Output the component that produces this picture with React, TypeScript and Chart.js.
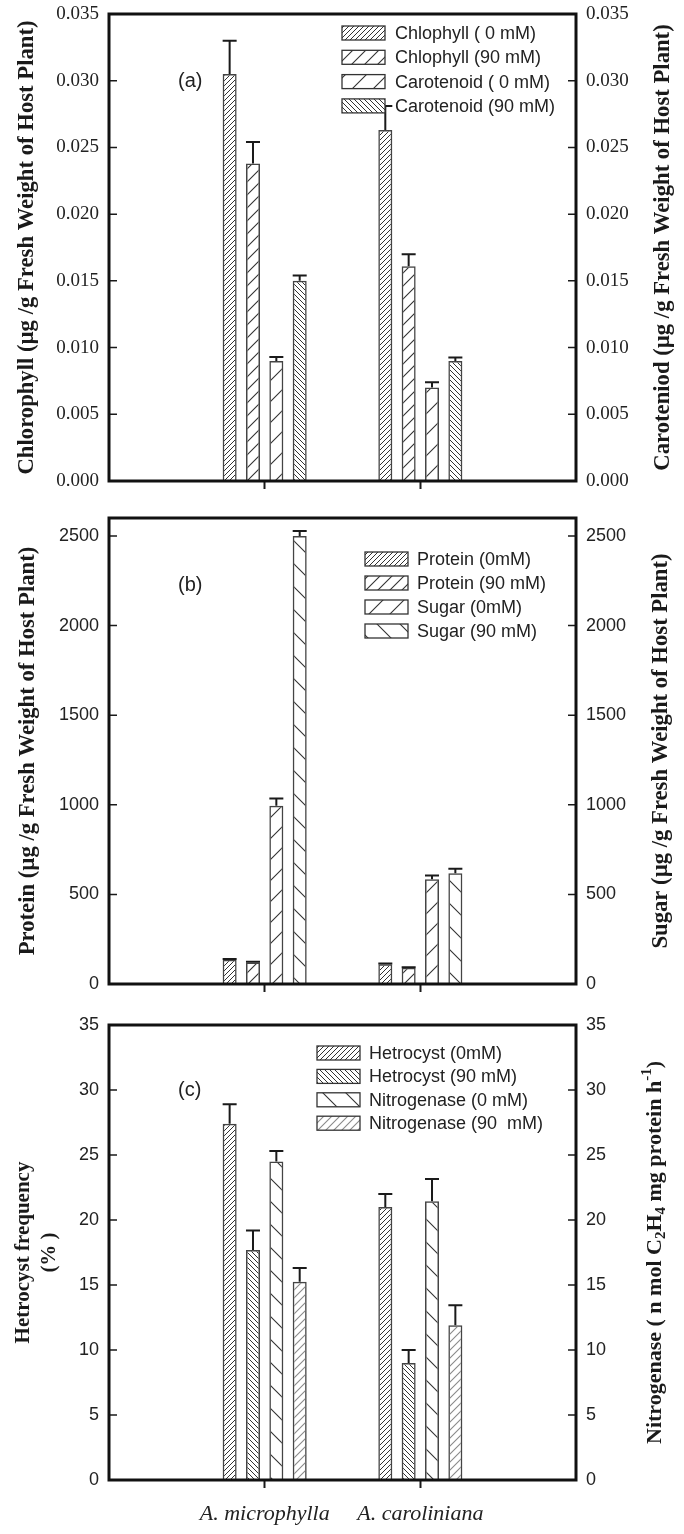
import React, { useEffect, useRef } from 'react';
import { Chart, registerables } from 'chart.js';
Chart.register(...registerables);

// ---------- data ----------
const categories = ['A. microphylla', 'A. caroliniana'];

// panel (a)
const ticksA = [0, 0.005, 0.01, 0.015, 0.02, 0.025, 0.03, 0.035];
const chlorophyll0 = [0.0305, 0.0263];
const chlorophyll0Err = [0.0025, 0.0018];
const chlorophyll90 = [0.0238, 0.0161];
const chlorophyll90Err = [0.0016, 0.0009];
const carotenoid0 = [0.009, 0.007];
const carotenoid0Err = [0.0003, 0.0004];
const carotenoid90 = [0.015, 0.009];
const carotenoid90Err = [0.0004, 0.00025];
const legendA = ['Chlophyll ( 0 mM)', 'Chlophyll (90 mM)', 'Carotenoid ( 0 mM)', 'Carotenoid (90 mM)'];

// panel (b)
const ticksB = [0, 500, 1000, 1500, 2000, 2500];
const protein0 = [135, 110];
const protein0Err = [5, 4];
const protein90 = [120, 90];
const protein90Err = [4, 3];
const sugar0 = [995, 585];
const sugar0Err = [40, 20];
const sugar90 = [2500, 618];
const sugar90Err = [28, 25];
const legendB = ['Protein (0mM)', 'Protein (90 mM)', 'Sugar (0mM)', 'Sugar (90 mM)'];

// panel (c)
const ticksC = [0, 5, 10, 15, 20, 25, 30, 35];
const hetrocyst0 = [27.4, 21.0];
const hetrocyst0Err = [1.5, 1.0];
const hetrocyst90 = [17.7, 9.0];
const hetrocyst90Err = [1.5, 1.0];
const nitrogenase0 = [24.5, 21.45];
const nitrogenase0Err = [0.8, 1.7];
const nitrogenase90 = [15.25, 11.9];
const nitrogenase90Err = [1.05, 1.55];
const legendC = ['Hetrocyst (0mM)', 'Hetrocyst (90 mM)', 'Nitrogenase (0 mM)', 'Nitrogenase (90  mM)'];

// ---------- helpers ----------
type Pat = { dir: 'f' | 'b'; s: number; color: string; lw: number };

function makePattern(p: Pat): CanvasPattern {
  const s = p.s;
  const c = document.createElement('canvas');
  c.width = s;
  c.height = s;
  const g = c.getContext('2d')!;
  g.strokeStyle = p.color;
  g.lineWidth = p.lw;
  g.beginPath();
  if (p.dir === 'f') {
    g.moveTo(0, s); g.lineTo(s, 0);
    g.moveTo(-s / 2, s / 2); g.lineTo(s / 2, -s / 2);
    g.moveTo(s / 2, s * 1.5); g.lineTo(s * 1.5, s / 2);
  } else {
    g.moveTo(0, 0); g.lineTo(s, s);
    g.moveTo(-s / 2, s / 2); g.lineTo(s / 2, s * 1.5);
    g.moveTo(s / 2, -s / 2); g.lineTo(s * 1.5, s / 2);
  }
  g.stroke();
  return g.createPattern(c, 'repeat')!;
}

type Seg = { t: string; kind?: 'sub' | 'sup' };

type PanelDef = {
  height: number;
  top: number;
  bottom: number;
  max: number;
  ticks: number[];
  decimals: number;
  tickFamily: string;
  tickSize: number;
  showCats: boolean;
  label: string;
  labelPos: [number, number];
  leftTitle: { lines: string[]; xs: number[]; size: number };
  rightTitle: { segs: Seg[]; x: number; size: number };
  legend: { x: number; y0: number; pitch: number; textX: number; labels: string[] };
  series: { values: number[]; errs: number[]; pat: Pat }[];
};

const dark = '#333';

const panels: PanelDef[] = [
  {
    height: 500, top: 14, bottom: 481, max: 0.035, ticks: ticksA, decimals: 3,
    tickFamily: '"Liberation Serif", serif', tickSize: 19, showCats: false,
    label: '(a)', labelPos: [178, 81],
    leftTitle: { lines: ['Chlorophyll (µg /g Fresh Weight of Host Plant)'], xs: [27], size: 22.7 },
    rightTitle: { segs: [{ t: 'Caroteniod (µg /g Fresh Weight of Host Plant)' }], x: 663, size: 22.7 },
    legend: { x: 342, y0: 33, pitch: 24.3, textX: 395, labels: legendA },
    series: [
      { values: chlorophyll0, errs: chlorophyll0Err, pat: { dir: 'f', s: 5, color: dark, lw: 1 } },
      { values: chlorophyll90, errs: chlorophyll90Err, pat: { dir: 'f', s: 13, color: dark, lw: 1.1 } },
      { values: carotenoid0, errs: carotenoid0Err, pat: { dir: 'f', s: 21, color: dark, lw: 1.1 } },
      { values: carotenoid90, errs: carotenoid90Err, pat: { dir: 'b', s: 5, color: dark, lw: 1 } },
    ],
  },
  {
    height: 500, top: 18, bottom: 484, max: 2600, ticks: ticksB, decimals: 0,
    tickFamily: '"Liberation Sans", Arial, sans-serif', tickSize: 18, showCats: false,
    label: '(b)', labelPos: [178, 85],
    leftTitle: { lines: ['Protein (µg /g Fresh Weight of Host Plant)'], xs: [28], size: 22.7 },
    rightTitle: { segs: [{ t: 'Sugar (µg /g Fresh Weight of Host Plant)' }], x: 661, size: 22.7 },
    legend: { x: 365, y0: 59, pitch: 24, textX: 417, labels: legendB },
    series: [
      { values: protein0, errs: protein0Err, pat: { dir: 'f', s: 5, color: dark, lw: 1 } },
      { values: protein90, errs: protein90Err, pat: { dir: 'f', s: 12, color: dark, lw: 1.1 } },
      { values: sugar0, errs: sugar0Err, pat: { dir: 'f', s: 21, color: dark, lw: 1.1 } },
      { values: sugar90, errs: sugar90Err, pat: { dir: 'b', s: 23, color: dark, lw: 1.1 } },
    ],
  },
  {
    height: 534, top: 25, bottom: 480, max: 35, ticks: ticksC, decimals: 0,
    tickFamily: '"Liberation Sans", Arial, sans-serif', tickSize: 18, showCats: true,
    label: '(c)', labelPos: [178, 90],
    leftTitle: { lines: ['Hetrocyst frequency', '(% )'], xs: [24, 50], size: 21 },
    rightTitle: {
      segs: [
        { t: 'Nitrogenase ( n mol C' }, { t: '2', kind: 'sub' }, { t: 'H' }, { t: '4', kind: 'sub' },
        { t: ' mg protein h' }, { t: '-1', kind: 'sup' }, { t: ')' },
      ],
      x: 655,
      size: 22,
    },
    legend: { x: 317, y0: 53, pitch: 23.4, textX: 369, labels: legendC },
    series: [
      { values: hetrocyst0, errs: hetrocyst0Err, pat: { dir: 'f', s: 5, color: dark, lw: 1 } },
      { values: hetrocyst90, errs: hetrocyst90Err, pat: { dir: 'b', s: 5, color: dark, lw: 1 } },
      { values: nitrogenase0, errs: nitrogenase0Err, pat: { dir: 'b', s: 23, color: dark, lw: 1.1 } },
      { values: nitrogenase90, errs: nitrogenase90Err, pat: { dir: 'f', s: 8, color: '#8a8a8a', lw: 1.1 } },
    ],
  },
];

function drawRotated(ctx: CanvasRenderingContext2D, segs: Seg[], x: number, y: number, base: number) {
  const small = Math.round(base * 0.7);
  const fontFor = (k?: string) => `bold ${k ? small : base}px "Liberation Serif", serif`;
  let total = 0;
  const widths = segs.map((s) => {
    ctx.font = fontFor(s.kind);
    const w = ctx.measureText(s.t).width;
    total += w;
    return w;
  });
  ctx.save();
  ctx.translate(x, y);
  ctx.rotate(-Math.PI / 2);
  ctx.textAlign = 'left';
  ctx.textBaseline = 'middle';
  ctx.fillStyle = '#1a1a1a';
  let cx = -total / 2;
  segs.forEach((s, i) => {
    ctx.font = fontFor(s.kind);
    const dy = s.kind === 'sub' ? 6 : s.kind === 'sup' ? -8 : 0;
    ctx.fillText(s.t, cx, dy);
    cx += widths[i];
  });
  ctx.restore();
}

function buildConfig(def: PanelDef): any {
  const patterns = def.series.map((s) => makePattern(s.pat));
  const labels = ['', ...categories, ''];

  const yCommon = (pos: 'left' | 'right', width: number) => ({
    position: pos,
    min: 0,
    max: def.max,
    grid: { display: false, drawTicks: false },
    border: { display: false },
    afterBuildTicks: (scale: any) => {
      scale.ticks = def.ticks.map((v) => ({ value: v }));
    },
    afterFit: (scale: any) => {
      scale.width = width;
      scale.paddingTop = 0;
      scale.paddingBottom = 0;
    },
    ticks: {
      padding: 10,
      color: '#222',
      font: { family: def.tickFamily, size: def.tickSize },
      callback: (v: number) => v.toFixed(def.decimals),
    },
  });

  const framePlugin = {
    id: 'framePlugin',
    afterDatasetsDraw(chart: any) {
      const ctx: CanvasRenderingContext2D = chart.ctx;
      const y = chart.scales.y;
      // error bars
      ctx.save();
      ctx.strokeStyle = '#1a1a1a';
      ctx.lineWidth = 2;
      def.series.forEach((s, di) => {
        const meta = chart.getDatasetMeta(di);
        s.values.forEach((v, i) => {
          const bar = meta.data[i + 1];
          if (!bar) return;
          const yTop = y.getPixelForValue(v + s.errs[i]);
          const yVal = y.getPixelForValue(v);
          const w = bar.width;
          ctx.beginPath();
          ctx.moveTo(bar.x, yVal);
          ctx.lineTo(bar.x, yTop);
          ctx.moveTo(bar.x - w / 2, yTop);
          ctx.lineTo(bar.x + w / 2, yTop);
          ctx.stroke();
        });
      });
      ctx.restore();
    },
    afterDraw(chart: any) {
      const ctx: CanvasRenderingContext2D = chart.ctx;
      const a = chart.chartArea;
      const y = chart.scales.y;
      ctx.save();
      // inward ticks
      ctx.strokeStyle = '#1a1a1a';
      ctx.lineWidth = 1.5;
      def.ticks.forEach((v) => {
        const py = y.getPixelForValue(v);
        ctx.beginPath();
        ctx.moveTo(a.left, py);
        ctx.lineTo(a.left + 8, py);
        ctx.moveTo(a.right - 8, py);
        ctx.lineTo(a.right, py);
        ctx.stroke();
      });
      // frame
      ctx.strokeStyle = '#111';
      ctx.lineWidth = 3;
      ctx.strokeRect(a.left, a.top, a.right - a.left, a.bottom - a.top);

      // legend
      const L = def.legend;
      L.labels.forEach((lab, k) => {
        const cy = L.y0 + k * L.pitch;
        ctx.fillStyle = '#fff';
        ctx.fillRect(L.x, cy - 7, 43, 14);
        ctx.fillStyle = patterns[k];
        ctx.fillRect(L.x, cy - 7, 43, 14);
        ctx.strokeStyle = '#333';
        ctx.lineWidth = 1.3;
        ctx.strokeRect(L.x, cy - 7, 43, 14);
        ctx.fillStyle = '#222';
        ctx.font = '18px "Liberation Sans", Arial, sans-serif';
        ctx.textAlign = 'left';
        ctx.textBaseline = 'middle';
        ctx.fillText(lab, L.textX, cy + 1);
      });

      // panel label
      ctx.fillStyle = '#222';
      ctx.font = '20px "Liberation Sans", Arial, sans-serif';
      ctx.textAlign = 'left';
      ctx.textBaseline = 'middle';
      ctx.fillText(def.label, def.labelPos[0], def.labelPos[1]);

      // left titles
      const cy = (a.top + a.bottom) / 2;
      def.leftTitle.lines.forEach((ln, i) => {
        ctx.save();
        ctx.translate(def.leftTitle.xs[i], cy);
        ctx.rotate(-Math.PI / 2);
        ctx.font = `bold ${def.leftTitle.size}px "Liberation Serif", serif`;
        ctx.fillStyle = '#1a1a1a';
        ctx.textAlign = 'center';
        ctx.textBaseline = 'middle';
        ctx.fillText(ln, 0, 0);
        ctx.restore();
      });
      ctx.restore();
      // right title
      drawRotated(ctx, def.rightTitle.segs, def.rightTitle.x, cy, def.rightTitle.size);
    },
  };

  return {
    type: 'bar',
    data: {
      labels,
      datasets: def.series.map((s, k) => ({
        label: def.legend.labels[k],
        data: [null, ...s.values, null],
        backgroundColor: patterns[k],
        borderColor: '#444',
        borderWidth: 1.5,
        categoryPercentage: 0.6,
        barPercentage: 0.6,
      })),
    },
    options: {
      animation: false,
      responsive: false,
      devicePixelRatio: 1,
      layout: { padding: { top: def.top, left: 0, right: 0, bottom: 0 } },
      plugins: { legend: { display: false }, tooltip: { enabled: false } },
      scales: {
        x: {
          type: 'category',
          offset: false,
          grid: {
            display: true,
            offset: false,
            drawOnChartArea: false,
            drawTicks: true,
            tickLength: 8,
            tickWidth: 2,
            color: 'rgba(0,0,0,0)',
            tickColor: (ctx: any) => (ctx.index === 1 || ctx.index === 2 ? '#1a1a1a' : 'rgba(0,0,0,0)'),
          },
          border: { display: false },
          afterFit: (scale: any) => {
            scale.height = def.height - def.bottom;
            scale.paddingLeft = 0;
            scale.paddingRight = 0;
          },
          ticks: {
            autoSkip: false,
            maxRotation: 0,
            minRotation: 0,
            padding: 13,
            color: '#222',
            font: { family: '"Liberation Serif", serif', size: 22, style: 'italic' },
            callback: function (this: any, v: any) {
              return def.showCats ? this.getLabelForValue(v) : '';
            },
          },
        },
        y: yCommon('left', 109),
        y2: yCommon('right', 684 - 576),
      },
    },
    plugins: [framePlugin],
  };
}

function Panel({ def }: { def: PanelDef }) {
  const ref = useRef<HTMLCanvasElement>(null);
  useEffect(() => {
    const chart = new Chart(ref.current!, buildConfig(def));
    return () => chart.destroy();
  }, [def]);
  return (
    <canvas
      ref={ref}
      width={684}
      height={def.height}
      style={{ display: 'block', width: 684, height: def.height }}
    />
  );
}

export default function App() {
  return (
    <div style={{ width: 684, background: '#fff' }}>
      <style>{'body{margin:0;background:#fff;}'}</style>
      {panels.map((p, i) => (
        <Panel key={i} def={p} />
      ))}
    </div>
  );
}
